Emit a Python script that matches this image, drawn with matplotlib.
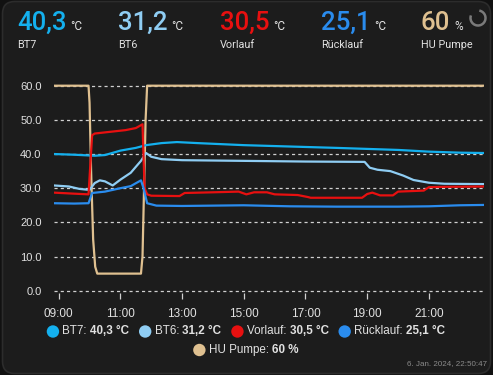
import matplotlib
matplotlib.use("Agg")
import matplotlib.pyplot as plt
from matplotlib.patches import FancyBboxPatch, Arc, Circle
from matplotlib.transforms import IdentityTransform

plt.rcParams['font.family'] = ['Roboto', 'DejaVu Sans']

# ---------------- data ----------------
hu_times = ["08:51", "09:58", "10:00", "10:03", "10:07", "10:11", "10:15", "11:40", "11:43",
            "11:46", "11:49", "11:52", "22:47"]
hu_vals = [60, 60, 55, 35, 15, 7, 5, 5, 10, 30, 50, 60, 60]

bt7_times = ["08:51", "09:30", "10:10", "10:30", "11:00", "11:30", "11:50", "12:20", "12:50", "13:30",
             "15:00", "16:30", "18:00", "19:00", "20:00", "21:00", "22:00", "22:47"]
bt7_vals = [40.0, 39.8, 39.5, 39.7, 41.0, 41.8, 42.6, 43.2, 43.5, 43.2,
            42.6, 42.2, 41.8, 41.5, 41.2, 40.7, 40.4, 40.3]

bt6_times = ["08:51", "09:20", "09:40", "10:00", "10:10", "10:20", "10:30", "10:45", "11:00", "11:20",
             "11:40", "11:50", "12:00", "12:20", "13:00", "15:00", "17:00", "18:55", "19:05", "19:20",
             "19:45", "20:10", "20:30", "21:00", "21:30", "22:47"]
bt6_vals = [30.8, 30.5, 29.8, 29.5, 31.5, 32.3, 32.0, 30.8, 32.5, 34.5,
            38.0, 40.3, 39.2, 38.5, 38.2, 38.0, 37.8, 37.7, 36.0, 35.4,
            35.0, 33.7, 32.4, 31.6, 31.3, 31.2]

vl_times = ["08:51", "09:30", "09:58", "10:05", "10:10", "10:40", "11:10", "11:30", "11:43", "11:47",
            "11:52", "12:00", "12:55", "13:05", "14:00", "14:50", "15:05", "15:20", "15:45", "16:00",
            "16:45", "17:05", "17:10", "18:50", "19:00", "19:10", "19:25", "19:50", "20:00", "20:50",
            "21:00", "21:30", "22:47"]
vl_vals = [28.7, 28.4, 28.2, 45.5, 46.0, 46.5, 47.0, 47.6, 48.7, 30.0,
           28.2, 27.8, 27.7, 28.6, 28.8, 29.0, 28.2, 28.8, 28.8, 28.2,
           28.0, 27.4, 27.2, 27.2, 28.3, 28.7, 27.9, 27.9, 29.0, 29.3,
           30.3, 30.4, 30.5]

rl_times = ["08:51", "09:30", "09:58", "10:05", "10:30", "11:00", "11:20", "11:40", "11:45", "11:52",
            "12:10", "13:00", "15:00", "16:30", "18:00", "20:00", "21:00", "22:00", "22:47"]
rl_vals = [25.6, 25.5, 25.6, 28.6, 29.0, 30.0, 30.6, 32.3, 30.0, 25.6,
           24.9, 24.8, 25.0, 24.7, 24.6, 24.6, 24.7, 25.0, 25.1]

x_tick_labels = ["09:00", "11:00", "13:00", "15:00", "17:00", "19:00", "21:00"]
y_ticks = [0, 10, 20, 30, 40, 50, 60]

names = ["BT7", "BT6", "Vorlauf", "Rücklauf", "HU Pumpe"]
current = ["40,3", "31,2", "30,5", "25,1", "60"]
units = ["°C", "°C", "°C", "°C", "%"]
colors = ["#14b0ee", "#8fcdf3", "#e81010", "#2a8cee", "#dfc090"]
timestamp = "6. Jan. 2024, 22:50:47"

CHART_FONT = ['Liberation Sans', 'DejaVu Sans']


def to_h(t):
    h, m = t.split(":")
    return int(h) + int(m) / 60.0


W, H = 493, 375
fig = plt.figure(figsize=(W / 100, H / 100), dpi=100)
fig.patch.set_facecolor("#111111")

# card
card = FancyBboxPatch((2.5 / W, 1.5 / H), (W - 5) / W, (H - 3) / H,
                      boxstyle="round,pad=0,rounding_size=0.025",
                      transform=fig.transFigure, facecolor="#1c1c1c",
                      edgecolor="#2c2c2c", linewidth=1.2, mutation_aspect=W / H,
                      zorder=-10)
fig.patches.append(card)


def fx(px):
    return px / W


def fy(py):
    return 1 - py / H


# header
xs = [17, 118, 220, 321, 421]
nums = []
for i in range(5):
    t = fig.text(fx(xs[i]), fy(29.5), current[i], color=colors[i], fontsize=18.5,
                 fontweight="medium", ha="left", va="baseline")
    nums.append(t)
fig.canvas.draw()
r = fig.canvas.get_renderer()
for i, txt in enumerate(nums):
    bb = txt.get_window_extent(r)
    fig.text(bb.x1 / W + fx(4), fy(29.5), units[i], color="#e1e1e1", fontsize=8.5,
             ha="left", va="baseline")
    fig.text(fx(xs[i]), fy(45), names[i], color="#e1e1e1", fontsize=7.8,
             ha="left", va="center")

# spinner
fig.add_artist(Arc((478, H - 18), 15, 15, theta1=-200, theta2=80, color="#7a7a7a", lw=1.8,
                   transform=IdentityTransform()))

# plot axes
left, right = 54, 484
top, bottom = 80, 293
ax = fig.add_axes([fx(left), fy(bottom), (right - left) / W, (bottom - top) / H])
ax.set_facecolor("none")
px_per = (290.7 - 85.7) / 60.0
ax.set_ylim(-(bottom - 290.7) / px_per, 60 + (85.7 - top) / px_per)
t0 = 9 - (58.7 - 54) / 30.85
t1 = t0 + (right - left) / 30.85
ax.set_xlim(t0, t1)

for v in y_ticks:
    ax.axhline(v, color="#d0d0d0", lw=0.9, ls=(0, (2.5, 2.5)), zorder=1)

all_series = [(bt7_times, bt7_vals), (bt6_times, bt6_vals), (vl_times, vl_vals),
              (rl_times, rl_vals), (hu_times, hu_vals)]
for k in range(5):
    ts, vs = all_series[k]
    ax.plot([to_h(t) for t in ts], vs, color=colors[k], lw=1.6, zorder=3 if k < 4 else 2,
            solid_joinstyle="round", solid_capstyle="round")

for s in ax.spines.values():
    s.set_visible(False)
ax.set_yticks(y_ticks)
ax.set_yticklabels([f"{v:.1f}" for v in y_ticks], family=CHART_FONT)
ax.set_xticks([to_h(t) for t in x_tick_labels])
ax.set_xticklabels(x_tick_labels, family=CHART_FONT)
ax.tick_params(axis="y", length=0, pad=9, labelsize=8, labelcolor="#e1e1e1")
ax.tick_params(axis="x", length=4, width=0.9, color="#d0d0d0", pad=7, labelsize=8.5,
               labelcolor="#e1e1e1", direction="out")

# legend
fs = 8.4
rows = [[0, 1, 2, 3], [4]]
row_y = [331.5, 350]
fig.canvas.draw()
r = fig.canvas.get_renderer()
for row, yy in zip(rows, row_y):
    items = []
    total = 0
    for k in row:
        a = fig.text(0, 0, names[k] + ": ", fontsize=fs, family=CHART_FONT)
        b = fig.text(0, 0, current[k] + " " + units[k], fontsize=fs, fontweight="bold",
                     family=CHART_FONT)
        wa = a.get_window_extent(r).width
        wb = b.get_window_extent(r).width
        a.remove()
        b.remove()
        items.append((k, wa, wb))
        total += 15.5 + wa + wb
    total += 10 * (len(row) - 1)
    x = 246 - total / 2
    for k, wa, wb in items:
        fig.add_artist(Circle((x + 6, H - yy), 6.2, transform=IdentityTransform(),
                              facecolor=colors[k], edgecolor="none"))
        x += 15.5
        fig.text(fx(x), fy(yy), names[k] + ": ", fontsize=fs, color="#e1e1e1",
                 ha="left", va="center", family=CHART_FONT)
        x += wa
        fig.text(fx(x), fy(yy), current[k] + " " + units[k], fontsize=fs, color="#e1e1e1",
                 fontweight="bold", ha="left", va="center", family=CHART_FONT)
        x += wb + 10

fig.text(fx(487), fy(364), timestamp, fontsize=5.8, color="#8a8a8a", ha="right", va="center",
         family=CHART_FONT)

fig.savefig("out.png", dpi=100, facecolor=fig.get_facecolor())
